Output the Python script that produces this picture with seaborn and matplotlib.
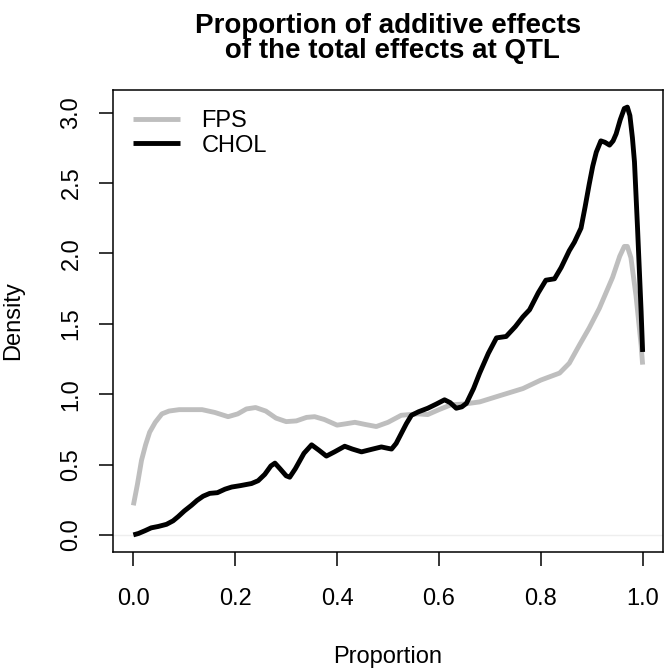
import matplotlib
matplotlib.use("Agg")
import matplotlib.pyplot as plt
import seaborn as sns

# density curves
fps_x = [0.000, 0.008, 0.016, 0.024, 0.032, 0.043, 0.056, 0.070, 0.090, 0.110,
         0.135, 0.160, 0.186, 0.205, 0.222, 0.240, 0.260, 0.280, 0.300, 0.320,
         0.340, 0.356, 0.375, 0.400, 0.418, 0.435, 0.455, 0.477, 0.500, 0.526,
         0.559, 0.578, 0.600, 0.624, 0.650, 0.680, 0.720, 0.765, 0.800, 0.837,
         0.856, 0.876, 0.895, 0.915, 0.941, 0.955, 0.964, 0.970, 0.977, 0.987,
         0.997, 1.000]
fps_y = [0.21, 0.36, 0.53, 0.64, 0.73, 0.80, 0.86, 0.88, 0.89, 0.89,
         0.89, 0.87, 0.84, 0.86, 0.895, 0.905, 0.88, 0.83, 0.805, 0.81,
         0.835, 0.84, 0.82, 0.78, 0.79, 0.80, 0.785, 0.77, 0.80, 0.85,
         0.86, 0.855, 0.89, 0.925, 0.93, 0.945, 0.99, 1.04, 1.10, 1.15,
         1.22, 1.35, 1.47, 1.61, 1.83, 1.98, 2.05, 2.05, 1.97, 1.70,
         1.35, 1.21]

chol_x = [0.000, 0.010, 0.023, 0.035, 0.049, 0.065, 0.078, 0.088, 0.100, 0.114,
          0.125, 0.137, 0.150, 0.165, 0.180, 0.193, 0.210, 0.232, 0.245, 0.258,
          0.270, 0.278, 0.288, 0.300, 0.307, 0.318, 0.335, 0.350, 0.365, 0.379,
          0.395, 0.415, 0.430, 0.448, 0.470, 0.487, 0.500, 0.507, 0.516, 0.526,
          0.536, 0.546, 0.560, 0.578, 0.595, 0.611, 0.622, 0.634, 0.645, 0.654,
          0.668, 0.680, 0.697, 0.713, 0.732, 0.750, 0.765, 0.778, 0.795, 0.810,
          0.827, 0.840, 0.856, 0.866, 0.879, 0.887, 0.895, 0.902, 0.909, 0.918,
          0.926, 0.935, 0.942, 0.948, 0.956, 0.964, 0.970, 0.975, 0.980, 0.984,
          0.990, 0.997, 1.000]
chol_y = [0.00, 0.01, 0.03, 0.05, 0.06, 0.075, 0.10, 0.13, 0.17, 0.21,
          0.245, 0.275, 0.295, 0.30, 0.325, 0.34, 0.35, 0.365, 0.385, 0.43,
          0.49, 0.51, 0.47, 0.42, 0.41, 0.47, 0.58, 0.64, 0.60, 0.56,
          0.59, 0.63, 0.61, 0.59, 0.61, 0.625, 0.615, 0.61, 0.65, 0.72,
          0.79, 0.85, 0.875, 0.90, 0.93, 0.96, 0.94, 0.90, 0.91, 0.935,
          1.04, 1.15, 1.29, 1.40, 1.41, 1.48, 1.55, 1.60, 1.72, 1.81,
          1.82, 1.90, 2.02, 2.08, 2.18, 2.33, 2.49, 2.62, 2.72, 2.80,
          2.79, 2.77, 2.80, 2.85, 2.95, 3.03, 3.04, 2.98, 2.82, 2.65,
          2.18, 1.59, 1.30]

x_ticks = [0.0, 0.2, 0.4, 0.6, 0.8, 1.0]
y_ticks = [0.0, 0.5, 1.0, 1.5, 2.0, 2.5, 3.0]

sns.set_style("ticks")
plt.rcParams["font.family"] = ["Liberation Sans", "DejaVu Sans"]
plt.rcParams["text.color"] = "black"
plt.rcParams["axes.labelcolor"] = "black"

fig = plt.figure(figsize=(6.66, 6.70), dpi=100)
ax = fig.add_axes([113 / 666, 118 / 670, 550 / 666, 462 / 670])

ax.axhline(0, color="#eeeeee", linewidth=1, zorder=1)
sns.lineplot(x=fps_x, y=fps_y, ax=ax, color="#bebebe", linewidth=3.5,
             label="FPS", sort=False, estimator=None,
             solid_joinstyle="round", solid_capstyle="butt")
sns.lineplot(x=chol_x, y=chol_y, ax=ax, color="black", linewidth=3.5,
             label="CHOL", sort=False, estimator=None,
             solid_joinstyle="round", solid_capstyle="butt")

ax.set_xlim(-0.04, 1.04)
ax.set_ylim(-0.1216, 3.1616)
ax.set_xticks(x_ticks)
ax.set_yticks(y_ticks)
ax.set_xticklabels([f"{t:.1f}" for t in x_ticks])
ax.set_yticklabels([f"{t:.1f}" for t in y_ticks], rotation=90, va="center")

for s in ax.spines.values():
    s.set_visible(True)
    s.set_color("black")
    s.set_linewidth(1.1)
ax.tick_params(axis="both", direction="out", length=10, width=1.1,
               labelsize=17, color="black", labelcolor="black",
               bottom=True, left=True, top=False, right=False)
ax.tick_params(axis="x", pad=16)
ax.tick_params(axis="y", pad=12)

ax.set_xlabel("Proportion", fontsize=17, labelpad=26)
ax.set_ylabel("Density", fontsize=17, labelpad=26)

ax.legend(loc="upper left", bbox_to_anchor=(0.0364, 0.956), frameon=False,
          fontsize=17, handlelength=2.0, handletextpad=0.9, labelspacing=0.1,
          borderpad=0, borderaxespad=0)

fig.text(388 / 666, 1 - 33.3 / 670, "Proportion of additive effects",
         ha="center", va="baseline", fontsize=20, fontweight="bold")
fig.text(388 / 666, 1 - 58.3 / 670, " of the total effects at QTL",
         ha="center", va="baseline", fontsize=20, fontweight="bold")

fig.savefig("out.png", dpi=100)
